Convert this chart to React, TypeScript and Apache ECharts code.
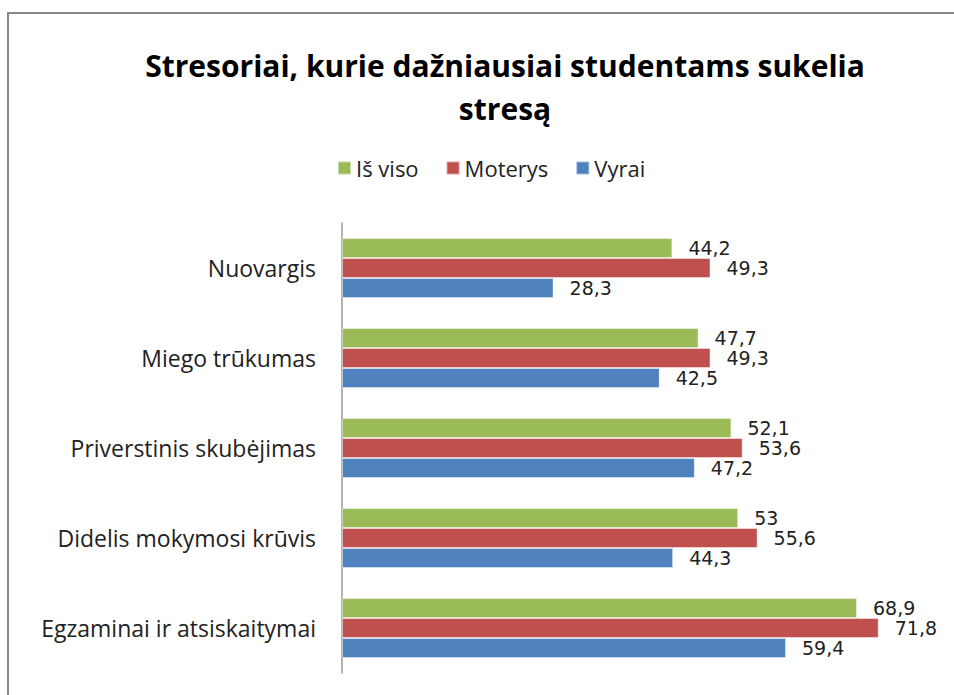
import React, { useEffect, useRef } from "react";
import * as echarts from "echarts";

const categories = [
  "Nuovargis",
  "Miego trūkumas",
  "Priverstinis skubėjimas",
  "Didelis mokymosi krūvis",
  "Egzaminai ir atsiskaitymai",
];
const isViso = [44.2, 47.7, 52.1, 53, 68.9];
const moterys = [49.3, 49.3, 53.6, 55.6, 71.8];
const vyrai = [28.3, 42.5, 47.2, 44.3, 59.4];
const seriesNames = ["Iš viso", "Moterys", "Vyrai"];
const titleLines = ["Stresoriai, kurie dažniausiai studentams sukelia", "stresą"];

const COLORS = { green: "#9BBB59", red: "#C0504D", blue: "#4F81BD" };

export default function App() {
  const ref = useRef<HTMLDivElement>(null);
  useEffect(() => {
    document.body.style.margin = "0";
    const chart = echarts.init(ref.current!, null, { renderer: "svg" });
    const label = {
      show: true,
      position: "right",
      distance: 16,
      color: "#222",
      fontFamily: "DejaVu Sans",
      fontSize: 19,
      formatter: (p: any) => String(p.value).replace(".", ","),
    };
    const mk = (name: string, data: number[], color: string) => ({
      name,
      type: "bar",
      data,
      barWidth: 20,
      barGap: "0%",
      itemStyle: { color, borderColor: "rgba(255,255,255,0.45)", borderWidth: 1 },
      label,
    });
    const titleStyle = {
      fontFamily: "Open Sans",
      fontWeight: "bold",
      fontSize: 30,
      fill: "#000",
      textAlign: "center",
      textVerticalAlign: "middle",
    };
    chart.setOption({
      animation: false,
      backgroundColor: "#fff",
      graphic: [
        {
          type: "rect",
          shape: { x: 8, y: 13, width: 2000, height: 2000 },
          style: { fill: "none", stroke: "#888", lineWidth: 2 },
          silent: true,
        },
        { type: "text", x: 505, y: 65, style: { ...titleStyle, text: titleLines[0] } },
        { type: "text", x: 505, y: 108, style: { ...titleStyle, text: titleLines[1] } },
      ],
      legend: {
        data: seriesNames,
        left: 332,
        top: 152,
        itemWidth: 13,
        itemHeight: 13,
        itemGap: 27,
        icon: "rect",
        textStyle: { fontFamily: "Open Sans", fontSize: 22, color: "#222" },
      },
      grid: { left: 342, right: 14, top: 223, bottom: 22, containLabel: false },
      xAxis: {
        type: "value",
        min: 0,
        max: 80,
        show: false,
      },
      yAxis: {
        type: "category",
        data: categories,
        inverse: true,
        axisLine: { show: true, lineStyle: { color: "#999", width: 1.5 } },
        axisTick: { show: false },
        axisLabel: { margin: 26, fontFamily: "Open Sans", fontSize: 23, color: "#222" },
      },
      series: [
        mk(seriesNames[0], isViso, COLORS.green),
        mk(seriesNames[1], moterys, COLORS.red),
        mk(seriesNames[2], vyrai, COLORS.blue),
      ],
    });
    return () => chart.dispose();
  }, []);
  return <div ref={ref} style={{ width: 954, height: 695 }} />;
}
